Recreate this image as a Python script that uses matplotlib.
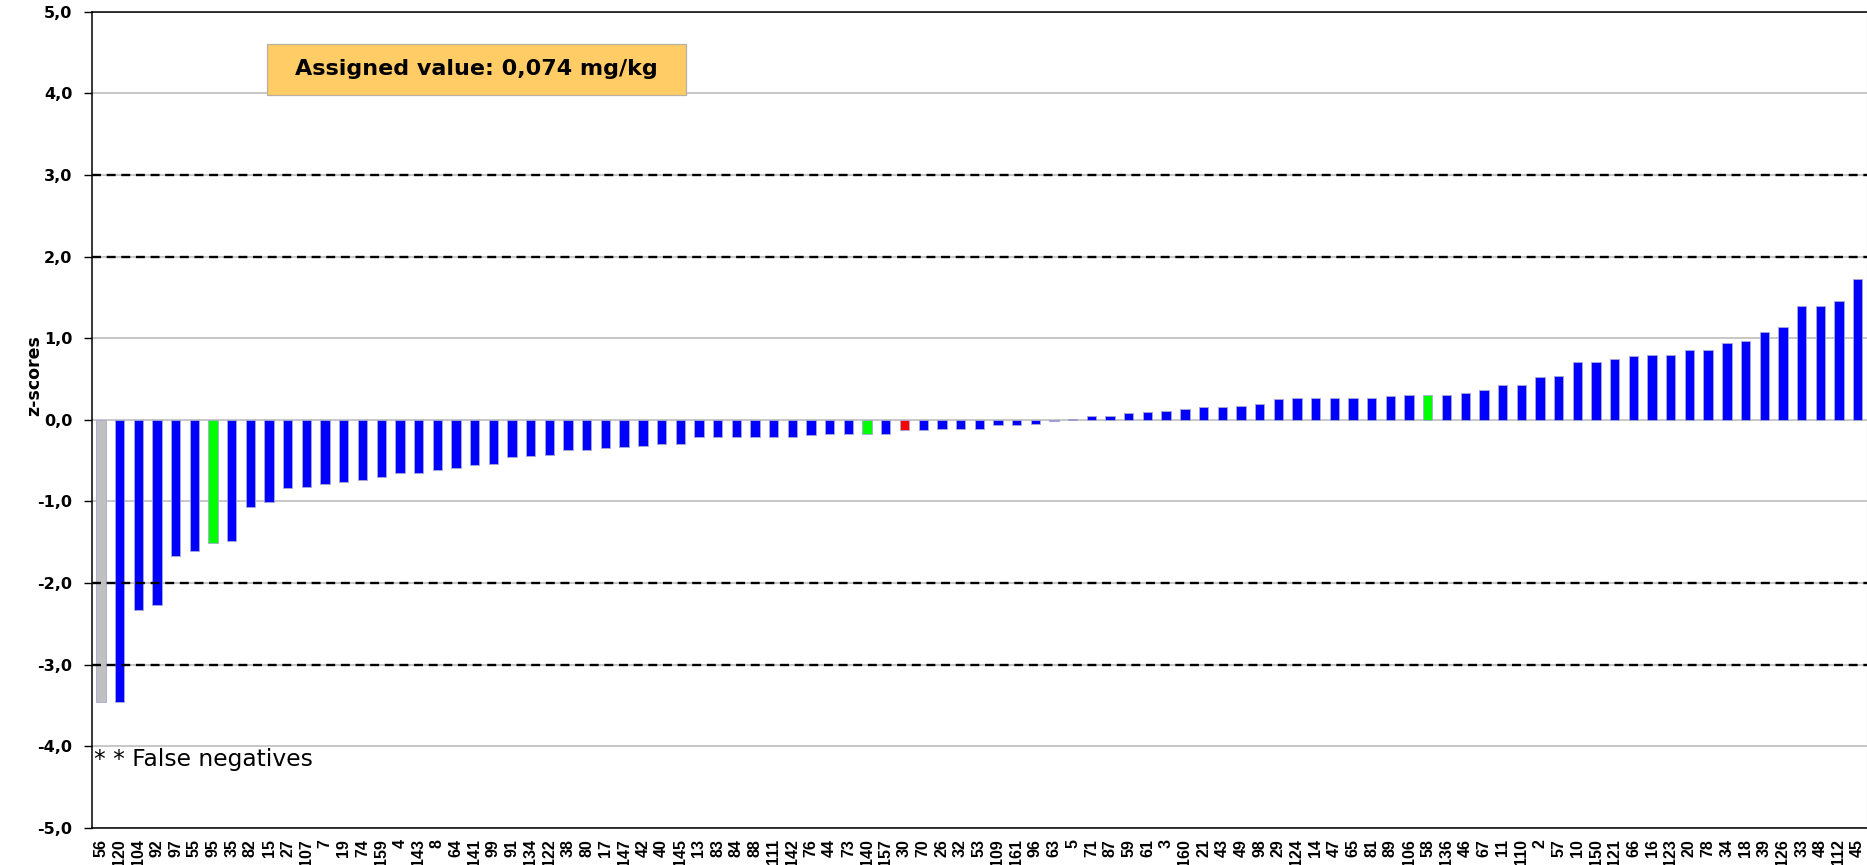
import matplotlib
matplotlib.use("Agg")
import matplotlib.pyplot as plt
from matplotlib.patches import Rectangle

# Laboratory codes, ordered by z-score
labs = ["56", "120", "104", "92", "97", "55", "95", "35", "82", "15",
        "27", "107", "7", "19", "74", "159", "4", "143", "8", "64",
        "141", "99", "91", "134", "122", "38", "80", "17", "147", "42",
        "40", "145", "13", "83", "84", "88", "111", "142", "76", "44",
        "73", "140", "157", "30", "70", "26", "32", "53", "109", "161",
        "96", "63", "5", "71", "87", "59", "61", "3", "160", "21",
        "43", "49", "98", "29", "124", "14", "47", "65", "81", "89",
        "106", "58", "136", "46", "67", "11", "110", "2", "57", "10",
        "150", "121", "66", "16", "123", "20", "78", "34", "18", "39",
        "126", "33", "48", "112", "45"]

z_scores = [-3.46, -3.46, -2.33, -2.27, -1.67, -1.61, -1.51, -1.49, -1.07, -1.01,
            -0.84, -0.82, -0.78, -0.76, -0.74, -0.70, -0.65, -0.65, -0.62, -0.59,
            -0.55, -0.54, -0.46, -0.44, -0.43, -0.37, -0.37, -0.35, -0.33, -0.32,
            -0.30, -0.29, -0.21, -0.21, -0.21, -0.21, -0.21, -0.21, -0.18, -0.17,
            -0.17, -0.17, -0.17, -0.13, -0.12, -0.11, -0.11, -0.11, -0.06, -0.06,
            -0.05, -0.01, 0.01, 0.05, 0.05, 0.08, 0.10, 0.11, 0.13, 0.16,
            0.16, 0.175, 0.20, 0.25, 0.27, 0.27, 0.27, 0.27, 0.27, 0.29,
            0.30, 0.31, 0.31, 0.33, 0.36, 0.43, 0.43, 0.52, 0.54, 0.71,
            0.71, 0.75, 0.785, 0.80, 0.80, 0.86, 0.86, 0.94, 0.97, 1.08,
            1.14, 1.40, 1.40, 1.46, 1.72]

# Result category per laboratory
false_negative = ["56"]
flagged_green = ["95", "140", "58"]
flagged_red = ["30"]

y_ticks = [-5, -4, -3, -2, -1, 0, 1, 2, 3, 4, 5]
limit_lines = [-3, -2, 2, 3]
assigned_text = "Assigned value: 0,074 mg/kg"
footnote = "* * False negatives"


def bar_color(code):
    if code in false_negative:
        return "#C0C0C0"
    if code in flagged_green:
        return "#00FF00"
    if code in flagged_red:
        return "#FF0000"
    return "#0000FF"


W, H = 1867, 865
fig = plt.figure(figsize=(W / 100, H / 100), dpi=100)
ax = fig.add_axes([91.5 / W, 1 - 828 / H, (W - 91.5) / W, (828 - 11.7) / H])

x = list(range(len(labs)))
ax.bar(x, z_scores, width=0.5, color=[bar_color(c) for c in labs],
       edgecolor="#A8A8D8", linewidth=0.6, zorder=3)

ax.set_xlim(-0.5, len(labs) - 0.5)
ax.set_ylim(-5, 5)

# y ticks with decimal comma
ax.set_yticks(y_ticks, labels=[f"{v:.1f}".replace(".", ",") for v in y_ticks],
              fontsize=11.5, fontweight="bold", fontfamily="DejaVu Sans")
ax.tick_params(axis="y", direction="out", length=5.6, width=1.0, pad=8.0,
               colors="black")

# light horizontal grid behind the bars
ax.yaxis.grid(True, color="#BEBEBE", linewidth=1.2, zorder=0)
ax.set_axisbelow(True)

# dashed limits drawn over the bars
for v in limit_lines:
    ax.axhline(v, color="black", linewidth=1.7, linestyle=(0, (3.8, 2.4)), zorder=4)

ax.set_xticks(x, labels=labs, rotation=90, fontsize=11.5, fontweight="bold",
              fontfamily="Liberation Sans", va="top", ha="center")
ax.tick_params(axis="x", length=0, pad=8.0)

for side in ("left", "bottom", "top"):
    ax.spines[side].set_color("black")
    ax.spines[side].set_linewidth(1.1)
ax.spines["right"].set_color("#B8B8D8")
ax.spines["right"].set_linewidth(0.8)

ax.set_ylabel("z-scores", fontsize=12.5, fontweight="bold", fontfamily="DejaVu Sans")
ax.yaxis.set_label_coords(-0.0273, 0.554)

# assigned value box
box_left, box_right = 0.0987, 0.3347
box_bottom, box_top = 0.898, 0.9604
ax.add_patch(Rectangle((box_left, box_bottom), box_right - box_left, box_top - box_bottom,
                       transform=ax.transAxes, facecolor="#FFCC66", edgecolor="#B8B0A0",
                       linewidth=0.9, zorder=5))
ax.text((box_left + box_right) / 2, (box_bottom + box_top) / 2, assigned_text,
        transform=ax.transAxes, ha="center", va="center", fontsize=16,
        fontweight="bold", fontfamily="DejaVu Sans", zorder=6)

ax.text(0.0015, 0.098, footnote, transform=ax.transAxes, ha="left", va="top",
        fontsize=16.8, fontfamily="DejaVu Sans", zorder=6)

fig.savefig("out.png", dpi=100)
